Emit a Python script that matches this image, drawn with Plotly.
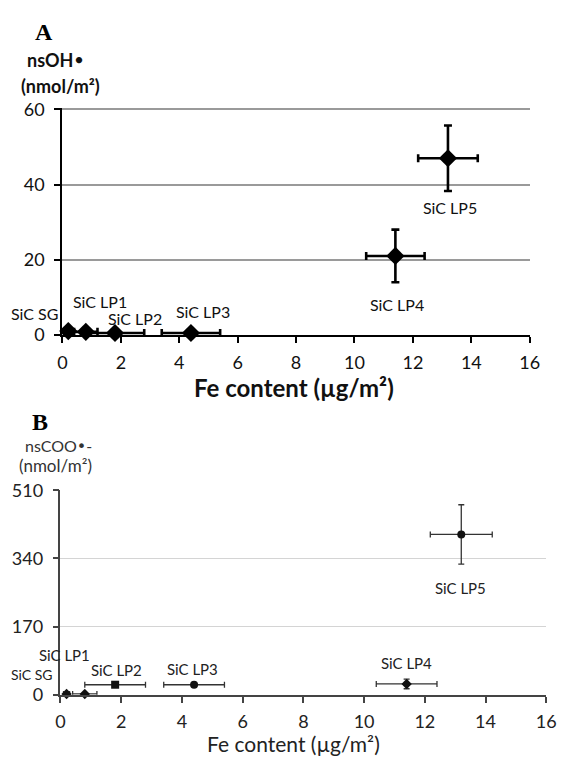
import plotly.graph_objects as go

# ---- Data ----
samples = ["SiC SG", "SiC LP1", "SiC LP2", "SiC LP3", "SiC LP4", "SiC LP5"]
fe_content = [0.2, 0.8, 1.8, 4.4, 11.4, 13.2]
fe_err = [0.1, 0.4, 1.0, 1.0, 1.0, 1.02]

nsOH = [1.0, 0.8, 0.5, 0.5, 21.0, 47.0]
nsOH_err = [0.6, 0.5, 0.4, 0.4, 7.0, 8.7]

nsCOO = [2, 2, 25, 25, 27, 400]
nsCOO_err = [1, 1, 3, 3, 12, 74]

# label positions (data units) for sample names
labA_x = [-0.97, 1.27, 2.47, 4.8, 11.47, 13.27]
labA_y = [5.6, 8.9, 4.4, 6.3, 8.0, 34.0]
labB_x = [-0.95, 0.13, 1.86, 4.36, 11.38, 13.17]
labB_y = [50, 100, 61, 63, 80, 267]
labB_size = [14, 15, 15, 15, 15, 15]

ticksA_y = [0, 20, 40, 60]
ticksB_y = [0, 170, 340, 510]
ticks_x = [0, 2, 4, 6, 8, 10, 12, 14, 16]
X_MAX = 16

FONT = "Lato"
W, H = 567, 767

fig = go.Figure()

# Panel A
fig.add_trace(go.Scatter(
    x=fe_content, y=nsOH, mode="markers",
    marker=dict(symbol="diamond", size=14, color="black"),
    error_x=dict(type="data", array=fe_err, color="black", thickness=2.6, width=4),
    error_y=dict(type="data", array=nsOH_err, color="black", thickness=2.6, width=4),
    xaxis="x", yaxis="y", showlegend=False, cliponaxis=False))

# Panel B
symB = ["diamond", "diamond", "square", "circle", "diamond", "circle"]
fig.add_trace(go.Scatter(
    x=fe_content, y=nsCOO, mode="markers",
    marker=dict(symbol=symB, size=8, color="#111"),
    error_x=dict(type="data", array=fe_err, color="#333", thickness=1.3, width=3),
    error_y=dict(type="data", array=nsCOO_err, color="#333", thickness=1.3, width=3),
    xaxis="x2", yaxis="y2", showlegend=False, cliponaxis=False))

ann = []
for s, lx, ly in zip(samples, labA_x, labA_y):
    ann.append(dict(x=lx / X_MAX, y=ly, xref="x domain", yref="y", text=s, showarrow=False,
                    font=dict(family=FONT, size=16, color="#111"), borderpad=0,
                    xanchor="center", yanchor="middle"))
for s, lx, ly, fs in zip(samples, labB_x, labB_y, labB_size):
    ann.append(dict(x=lx / X_MAX, y=ly, xref="x2 domain", yref="y2", text=s, showarrow=False,
                    font=dict(family=FONT, size=fs, color="#222"), borderpad=0,
                    xanchor="center", yanchor="middle"))


def P(px, py, text, size, bold=False, family=FONT, color="#111", xa="center"):
    t = f"<b>{text}</b>" if bold else text
    return dict(x=px / W, y=1 - py / H, xref="paper", yref="paper", text=t,
                showarrow=False, xanchor=xa, yanchor="middle",
                font=dict(family=family, size=size, color=color))


BUL = "<span style='font-family:DejaVu Sans'>•</span>"
ann += [
    P(40, 22, "A", 24, bold=True, family="Liberation Serif", color="black"),
    P(52, 50, "nsOH" + BUL, 18, bold=True),
    P(57, 77, "(nmol/m²)", 18, bold=True),
    P(297, 387, "Fe content (µg/m²)", 24, bold=True),
    P(36, 423, "B", 24, bold=True, family="Liberation Serif", color="black"),
    P(55, 447, "nsCOO" + BUL + "-", 16, color="#333"),
    P(52, 467, "(nmol/m²)", 17, color="#333"),
    P(296, 753, "Fe content (µg/m²)", 21, color="#222"),
]

axA = dict(showline=True, linecolor="black", linewidth=2.2, ticks="outside",
           ticklen=6, tickwidth=2, tickcolor="black", zeroline=False,
           tickfont=dict(family=FONT, size=18, color="#111"))
axB = dict(showline=True, linecolor="#444", linewidth=1.6, ticks="outside",
           ticklen=6, tickwidth=1.5, tickcolor="#444", zeroline=False,
           tickfont=dict(family=FONT, size=18, color="#222"))

fig.update_layout(
    width=W, height=H, margin=dict(l=0, r=0, t=0, b=0),
    paper_bgcolor="white", plot_bgcolor="white",
    xaxis=dict(**axA, domain=[59 / W, 539 / W], range=[0, X_MAX], tickvals=ticks_x,
               showgrid=False, anchor="y", ticklabelstandoff=4),
    yaxis=dict(**axA, domain=[1 - 333 / H, 1 - 100 / H], range=[0, 60.3], tickvals=ticksA_y,
               showgrid=True, gridcolor="#9a9a9a", gridwidth=1.5, anchor="x",
               ticklabelstandoff=6),
    xaxis2=dict(**axB, domain=[57 / W, 556 / W], range=[0, X_MAX], tickvals=ticks_x,
                showgrid=False, anchor="y2", ticklabelstandoff=4),
    yaxis2=dict(**axB, domain=[1 - 703 / H, 1 - 492 / H], range=[0, 512], tickvals=ticksB_y,
                showgrid=True, gridcolor="#d4d4d4", gridwidth=1.3, anchor="x2",
                ticklabelstandoff=6),
    annotations=ann,
)

fig.write_html("out.html")
